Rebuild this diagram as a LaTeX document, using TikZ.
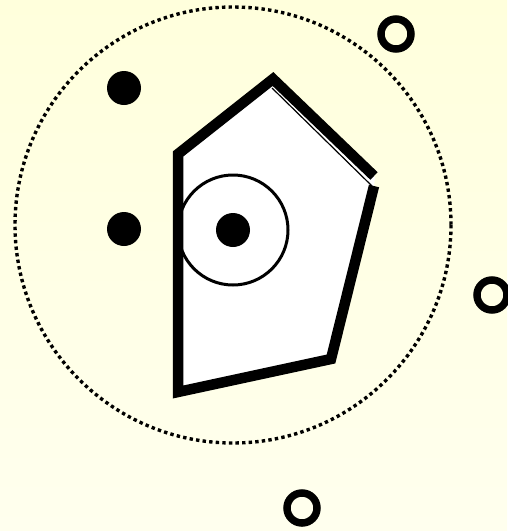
\documentclass[tikz,border=0pt]{standalone}
\definecolor{bgtop}{RGB}{255,255,220}
\definecolor{bgbot}{RGB}{255,255,238}
\begin{document}
\begin{tikzpicture}[x=1pt,y=-1pt,
  blackdot/.style={fill=black},
  ring/.style={draw=black,line width=7.5pt},
  heavy/.style={line width=10.5pt,line join=miter,line cap=butt}]
\useasboundingbox (0,0) rectangle (507,531);
\shade[top color=bgtop,bottom color=bgbot] (0,0) rectangle (507,531);
% dotted circle
\draw[line width=3.4pt,dash pattern=on 3.4pt off 3.2pt] (233,225) circle (218);
% pentagon fill
\fill[white] (178,154) -- (273,79) -- (375,177) -- (374,186) -- (331,359) -- (178,392) -- cycle;
\draw[line width=1.2pt] (272,88) -- (372,186);
\draw[heavy] (374,186) -- (331,359) -- (178,392) -- (178,154) -- (273,79) -- (374,176);
% inner circle and dot
\coordinate (c) at (233,230);
\draw[line width=3pt] (c) circle (55);
\fill[blackdot] (c) circle (17);
% black dots
\fill[blackdot] (124,88) circle (17);
\fill[blackdot] (124,229) circle (17);
% rings
\draw[ring] (396,34) circle (15);
\draw[ring] (492,295) circle (15);
\draw[ring] (302,508) circle (15);
\end{tikzpicture}
\end{document}
